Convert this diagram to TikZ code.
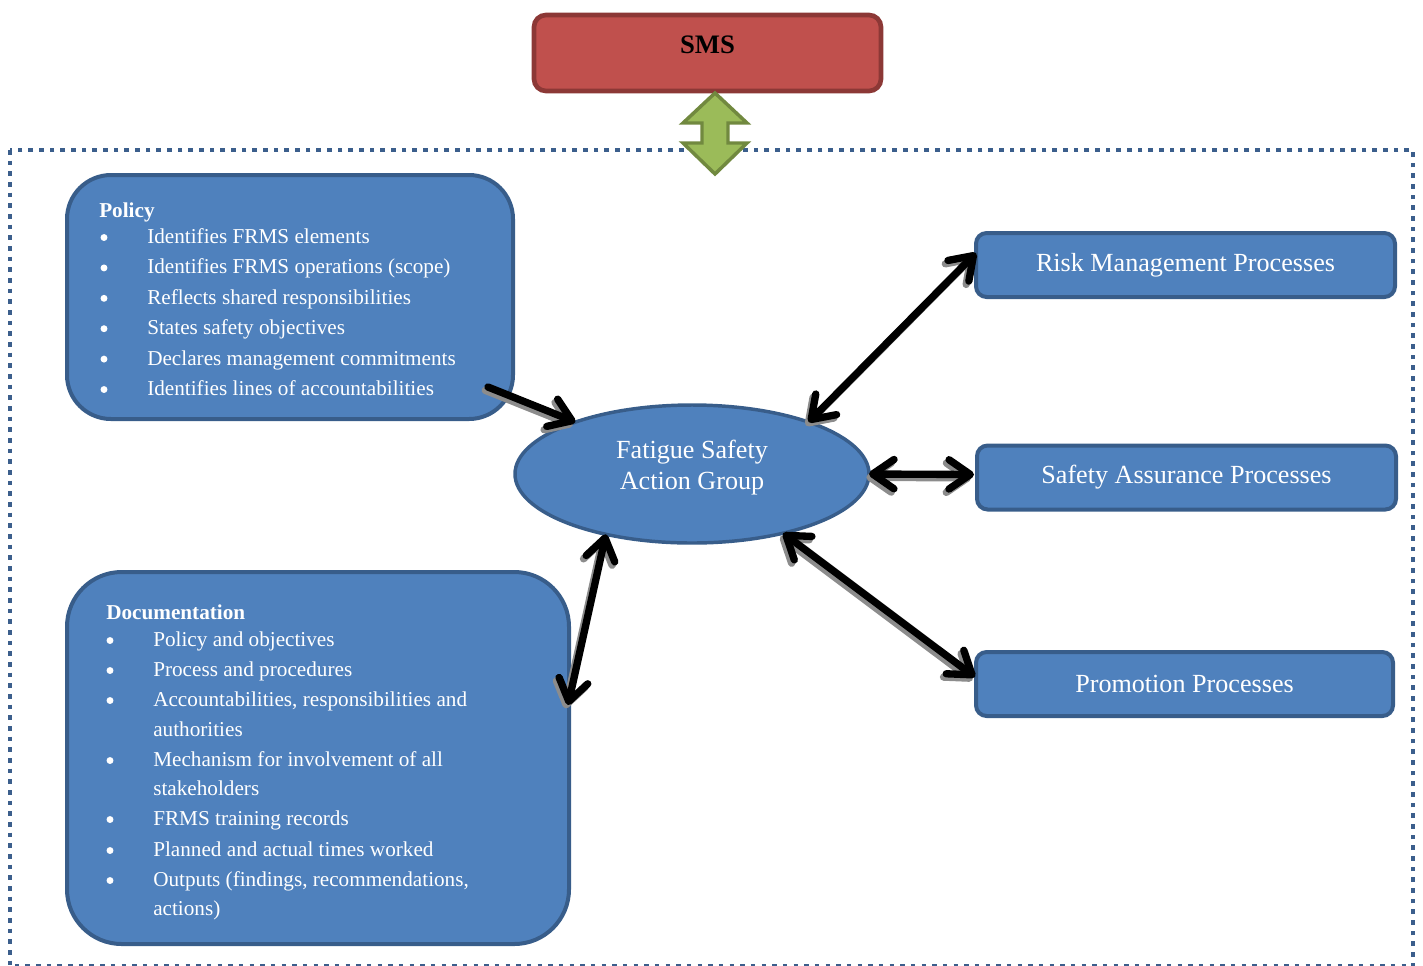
\documentclass[tikz,border=0pt]{standalone}
\usepackage{fontspec}
\setmainfont{Liberation Serif}
\usetikzlibrary{arrows.meta,shapes.geometric,calc}
\definecolor{boxfill}{HTML}{4F81BD}
\definecolor{boxline}{HTML}{385D8A}
\definecolor{smsfill}{HTML}{C0504D}
\definecolor{smsline}{HTML}{8C3836}
\definecolor{grfill}{HTML}{9BBB59}
\definecolor{grline}{HTML}{71893F}
\definecolor{framecol}{HTML}{3B5E8C}
\tikzset{
  cb/.tip={Straight Barb[length=16pt,width=22pt,line cap=round,line join=round]},
  bluebox/.style={draw=boxline, fill=boxfill, line width=3pt, rounded corners=#1, inner sep=0pt, outer sep=0pt},
  procbox/.style={bluebox=8pt, minimum height=48pt, text=white, font=\fontsize{19.6}{23}\selectfont},
  bodytext/.style={text=white, font=\fontsize{15.9}{19}\selectfont, anchor=base west, inner sep=0pt},
  headtext/.style={text=white, font=\bfseries\fontsize{15.9}{19}\selectfont, anchor=base west, inner sep=0pt},
  bulletmark/.style={circle, fill=white, inner sep=0pt, minimum size=5.2pt},
  shadowline/.style={line width=5.5pt, draw=black!45, line cap=round},
  conn/.style={line width=5.5pt, draw=black, line cap=round},
}
\begin{document}
\begin{tikzpicture}[x=0.75pt,y=-0.75pt]
\useasboundingbox (0,0) rectangle (1423,965);

% dotted frame
\draw[framecol, line width=3.4pt, dash pattern=on 3.4pt off 4.6pt] (10,150) rectangle (1413,966.5);

% SMS box
\node[draw=smsline, fill=smsfill, line width=3.5pt, rounded corners=9pt, inner sep=0pt, outer sep=0pt,
      minimum width=260.25pt, minimum height=57pt] (sms) at (707.5,53) {};
\node[font=\bfseries\fontsize{20}{24}\selectfont, text=black, inner sep=0pt] (smstext) at (707.5,45) {SMS};

% green double arrow
\draw[fill=grfill, draw=grline, line width=2.6pt, line join=miter]
  (715,93) -- (747,123) -- (728,123) -- (728,143) -- (747,143) -- (715,174)
  -- (683,143) -- (702,143) -- (702,123) -- (683,123) -- cycle;

% Policy box
\node[bluebox=33pt, minimum width=334.5pt, minimum height=183pt] (policy) at (290,297) {};
\node[headtext] (ph) at (99,217.5) {Policy};
\foreach \txt [count=\i] in {Identifies FRMS elements, Identifies FRMS operations (scope), Reflects shared responsibilities, States safety objectives, Declares management commitments, Identifies lines of accountabilities} {
  \node[bodytext] (pt\i) at (147,{243.5+30.4*(\i-1)}) {\txt};
  \node[bulletmark] (pb\i) at (104,{237.5+30.4*(\i-1)}) {};
}

% Documentation box
\node[bluebox=41pt, minimum width=376.5pt, minimum height=279pt] (doc) at (318,758) {};
\node[headtext] (dh) at (106,619.5) {Documentation};
\node[bodytext] (d1) at (153,646.5) {Policy and objectives};
\node[bodytext] (d2) at (153,676.5) {Process and procedures};
\node[bodytext] (d3) at (153,706.5) {Accountabilities, responsibilities and};
\node[bodytext] (d3b) at (153,736.5) {authorities};
\node[bodytext] (d4) at (153,766.5) {Mechanism for involvement of all};
\node[bodytext] (d4b) at (153,795.5) {stakeholders};
\node[bodytext] (d5) at (153,825.5) {FRMS training records};
\node[bodytext] (d6) at (153,856.5) {Planned and actual times worked};
\node[bodytext] (d7) at (153,886.5) {Outputs (findings, recommendations,};
\node[bodytext] (d7b) at (153,915.5) {actions)};
\foreach \y [count=\i] in {646.5,676.5,706.5,766.5,825.5,856.5,886.5} {
  \node[bulletmark] (db\i) at (110,\y-6) {};
}

% central ellipse
\node[ellipse, draw=boxline, fill=boxfill, line width=2.6pt, inner sep=0pt, outer sep=0pt,
      minimum width=265.5pt, minimum height=103.5pt] (fsag) at (692,474) {};
\node[text=white, align=center, font=\fontsize{19.6}{23.25}\selectfont, inner sep=0pt] (fsagtext) at (692,467.5)
  {Fatigue Safety\\Action Group};

% process boxes
\node[procbox, minimum width=314.25pt] (risk) at (1185.5,265) {Risk Management Processes};
\node[procbox, minimum width=314.25pt] (safety) at (1186.5,477.5) {Safety Assurance Processes};
\node[procbox, minimum width=312.75pt] (promo) at (1184.5,684) {Promotion Processes};

% connectors (with soft offset shadow)
\begin{scope}[transform canvas={xshift=-2pt,yshift=-2.5pt}]
\draw[shadowline, -{cb}] ($(policy.south east)+(-25,-32)$) -- (fsag.156);
\draw[shadowline, {cb}-{cb}] (fsag.24) -- ($(risk.west)+(0,-12)$);
\draw[shadowline, {cb}-{cb}] (fsag.east) -- ($(safety.west)+(-3,-3)$);
\draw[shadowline, {cb}-{cb}] (fsag.-33) -- ($(promo.west)+(-1,-7)$);
\draw[shadowline, {cb}-{cb}] (fsag.215) -- ($(doc.east)+(-1,-53)$);
\end{scope}
\draw[conn, -{cb}] ($(policy.south east)+(-25,-32)$) -- (fsag.156);
\draw[conn, {cb}-{cb}] (fsag.24) -- ($(risk.west)+(0,-12)$);
\draw[conn, {cb}-{cb}] (fsag.east) -- ($(safety.west)+(-3,-3)$);
\draw[conn, {cb}-{cb}] (fsag.-33) -- ($(promo.west)+(-1,-7)$);
\draw[conn, {cb}-{cb}] (fsag.215) -- ($(doc.east)+(-1,-53)$);
\end{tikzpicture}
\end{document}
